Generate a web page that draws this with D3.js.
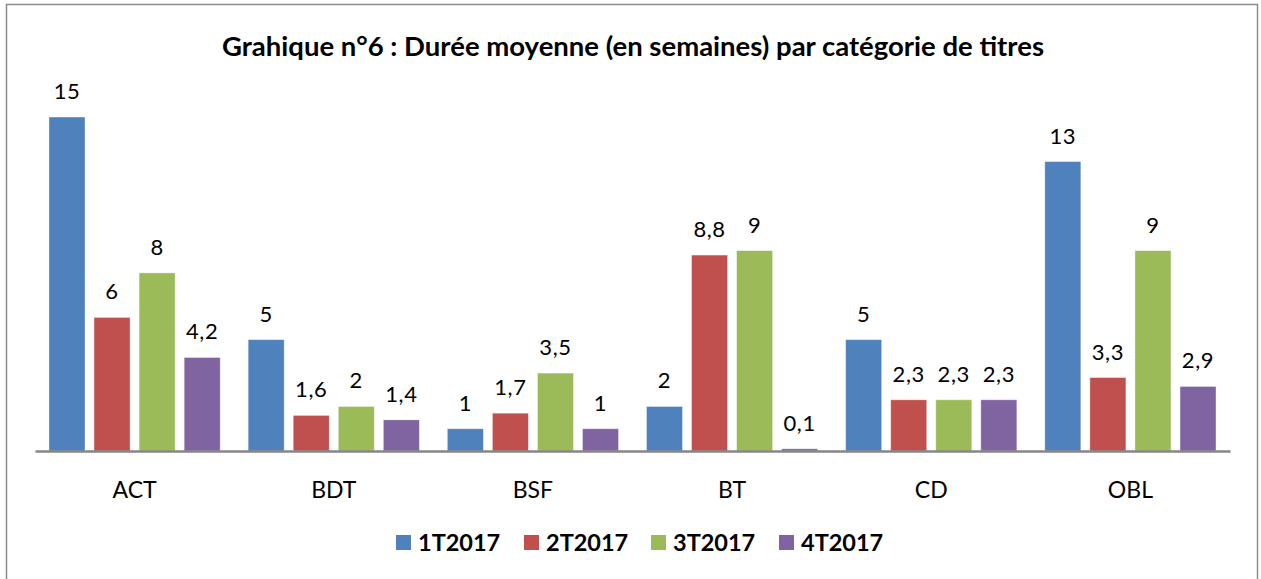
<!DOCTYPE html>
<html><head><meta charset="utf-8">
<script src="https://cdn.jsdelivr.net/npm/d3@7"></script>
<style>body{margin:0;background:#fff}svg{display:block}</style>
</head><body><svg id="c" width="1261" height="579"></svg>
<script>
const categories = ["ACT","BDT","BSF","BT","CD","OBL"];
const seriesNames = ["1T2017","2T2017","3T2017","4T2017"];
const s1 = [15, 5, 1, 2, 5, 13];
const s2 = [6, 1.6, 1.7, 8.8, 2.3, 3.3];
const s3 = [8, 2, 3.5, 9, 2.3, 9];
const s4 = [4.2, 1.4, 1, 0.1, 2.3, 2.9];
const colors = ["#4F81BD","#C0504D","#9BBB59","#8064A2"];
const title = "Grahique n°6 : Durée moyenne (en semaines) par catégorie de titres";

const values = [s1, s2, s3, s4];
const svg = d3.select("#c");
const font = "Lato, 'Open Sans', sans-serif";

svg.append("rect").attr("x",6.5).attr("y",4.5).attr("width",1251).attr("height",590)
  .attr("fill","#fff").attr("stroke","#8c8c8c").attr("stroke-width",1.5);

svg.append("text").attr("x",633).attr("y",56).attr("text-anchor","middle")
  .attr("font-family",font).attr("font-weight","bold").attr("font-size",27.5)
  .attr("fill","#000").text(title);

const x0 = d3.scaleBand().domain(categories).range([35,1230]).padding(0);
const x1 = d3.scaleBand().domain(seriesNames).range([0,x0.bandwidth()]).paddingInner(0.2).paddingOuter(0.31);
const y = d3.scaleLinear().domain([0,15]).range([451,117]);

const data = [];
categories.forEach((c,i)=>seriesNames.forEach((s,j)=>data.push({c,s,j,v:values[j][i]})));

const g = svg.append("g");
g.selectAll("rect.bar").data(data).join("rect").attr("class","bar")
  .attr("x",d=>x0(d.c)+x1(d.s)).attr("width",x1.bandwidth())
  .attr("y",d=>y(d.v)).attr("height",d=>y(0)-y(d.v))
  .attr("fill",d=>colors[d.j]).attr("stroke","#ffffff").attr("stroke-opacity",0.5).attr("stroke-width",0.8);

const fmt = v => String(v).replace(".",",");
g.selectAll("text.lbl").data(data).join("text").attr("class","lbl")
  .attr("x",d=>x0(d.c)+x1(d.s)+x1.bandwidth()/2).attr("y",d=>y(d.v)-18)
  .attr("text-anchor","middle").attr("font-family",font).attr("font-size",22).attr("letter-spacing",0.6).attr("fill","#000")
  .text(d=>fmt(d.v));

const xAxis = d3.axisBottom(x0).tickSize(0).tickPadding(0);
const ax = svg.append("g").attr("transform",`translate(0,${y(0)})`).call(xAxis);
ax.select(".domain").attr("stroke","#868686").attr("stroke-width",2.5);
ax.selectAll("text").attr("font-family",font).attr("font-size",23).attr("fill","#000").attr("dy",0).attr("y",47);

const legX = [396, 524, 651, 779];
const leg = svg.append("g").selectAll("g").data(seriesNames).join("g")
  .attr("transform",(d,i)=>`translate(${legX[i]},535)`);
leg.append("rect").attr("width",15).attr("height",15).attr("fill",(d,i)=>colors[i]);
leg.append("text").attr("x",22).attr("y",16).attr("font-family",font).attr("font-weight","bold")
  .attr("font-size",23.5).attr("fill","#000").text(d=>d);
</script></body></html>
